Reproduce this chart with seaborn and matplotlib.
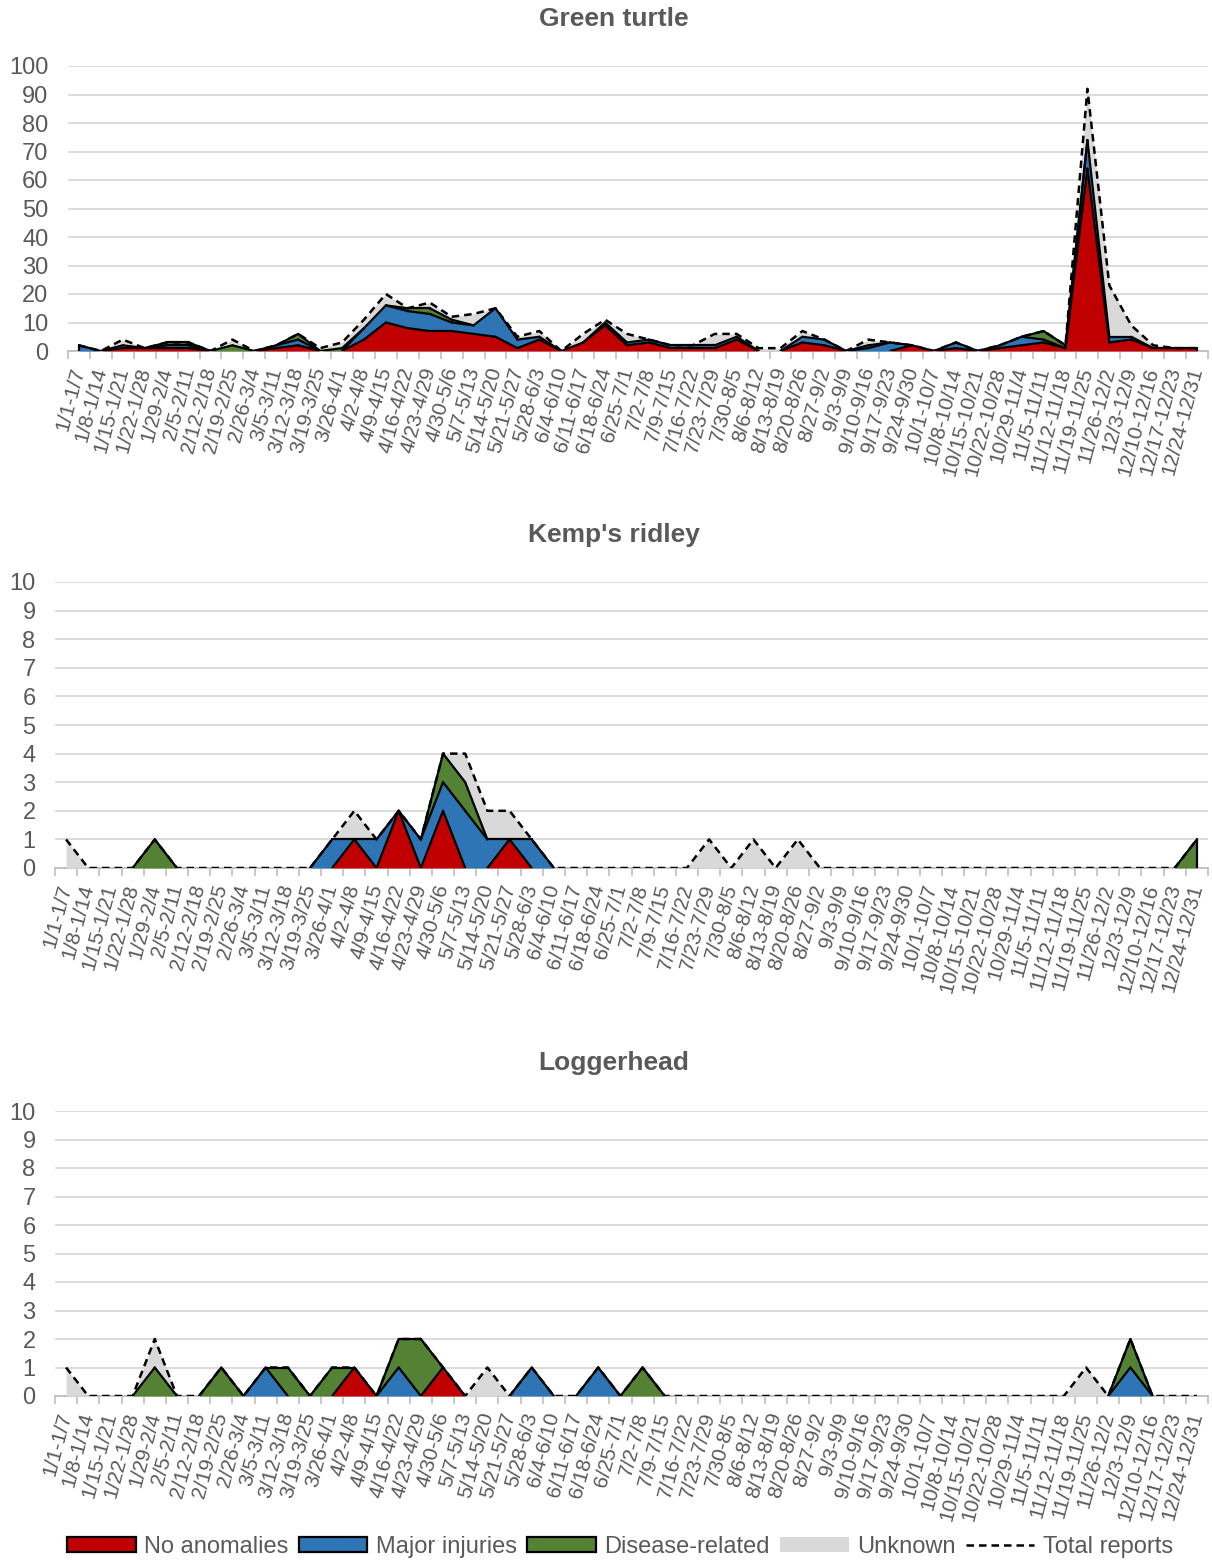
import numpy as np
import matplotlib
matplotlib.use("Agg")
import matplotlib.pyplot as plt
import seaborn as sns
from matplotlib.collections import LineCollection
from matplotlib.patches import Patch
from matplotlib.lines import Line2D
from matplotlib.transforms import ScaledTranslation

weeks = ["1/1-1/7", "1/8-1/14", "1/15-1/21", "1/22-1/28", "1/29-2/4", "2/5-2/11",
         "2/12-2/18", "2/19-2/25", "2/26-3/4", "3/5-3/11", "3/12-3/18", "3/19-3/25",
         "3/26-4/1", "4/2-4/8", "4/9-4/15", "4/16-4/22", "4/23-4/29", "4/30-5/6",
         "5/7-5/13", "5/14-5/20", "5/21-5/27", "5/28-6/3", "6/4-6/10", "6/11-6/17",
         "6/18-6/24", "6/25-7/1", "7/2-7/8", "7/9-7/15", "7/16-7/22", "7/23-7/29",
         "7/30-8/5", "8/6-8/12", "8/13-8/19", "8/20-8/26", "8/27-9/2", "9/3-9/9",
         "9/10-9/16", "9/17-9/23", "9/24-9/30", "10/1-10/7", "10/8-10/14", "10/15-10/21",
         "10/22-10/28", "10/29-11/4", "11/5-11/11", "11/12-11/18", "11/19-11/25",
         "11/26-12/2", "12/3-12/9", "12/10-12/16", "12/17-12/23", "12/24-12/31"]

series_names = ["No anomalies", "Major injuries", "Disease-related", "Unknown"]
total_name = "Total reports"

# Green turtle
green_no_anom = [0, 0, 1, 1, 1, 1, 0, 0, 0, 1, 2, 0, 0, 4, 10, 8, 7, 7, 6, 5, 1, 4, 0, 3, 9, 2,
                 3, 1, 1, 1, 4, 0, 0, 3, 2, 0, 0, 0, 2, 0, 1, 0, 1, 2, 3, 1, 64, 3, 4, 1, 1, 1]
green_major = [2, 0, 1, 0, 1, 1, 0, 0, 0, 1, 2, 0, 0, 4, 6, 6, 6, 3, 3, 10, 3, 1, 0, 0, 1, 1,
               1, 1, 1, 1, 1, 0, 0, 2, 2, 0, 1, 3, 0, 0, 2, 0, 1, 3, 1, 0, 10, 2, 1, 0, 0, 0]
green_disease = [0, 0, 0, 0, 1, 1, 0, 2, 0, 0, 2, 0, 1, 0, 0, 1, 2, 1, 0, 0, 0, 0, 0, 0, 0, 0,
                 0, 0, 0, 0, 0, 0, 0, 0, 0, 0, 1, 0, 0, 0, 0, 0, 0, 0, 3, 1, 0, 0, 0, 0, 0, 0]
green_unknown = [0, 0, 2, 0, 0, 0, 0, 2, 0, 0, 0, 1, 2, 3, 4, 0, 2, 1, 4, 0, 1, 2, 0, 3, 1, 3,
                 0, 0, 0, 4, 1, 1, 1, 2, 0, 0, 2, 0, 0, 0, 0, 0, 0, 0, 0, 0, 18, 18, 4, 1, 0, 0]

# Kemp's ridley
kemp_no_anom = [0, 0, 0, 0, 0, 0, 0, 0, 0, 0, 0, 0, 0, 1, 0, 2, 0, 2, 0, 0, 1, 0, 0, 0, 0, 0,
                0, 0, 0, 0, 0, 0, 0, 0, 0, 0, 0, 0, 0, 0, 0, 0, 0, 0, 0, 0, 0, 0, 0, 0, 0, 0]
kemp_major = [0, 0, 0, 0, 0, 0, 0, 0, 0, 0, 0, 0, 1, 0, 1, 0, 1, 1, 2, 1, 0, 1, 0, 0, 0, 0,
              0, 0, 0, 0, 0, 0, 0, 0, 0, 0, 0, 0, 0, 0, 0, 0, 0, 0, 0, 0, 0, 0, 0, 0, 0, 0]
kemp_disease = [0, 0, 0, 0, 1, 0, 0, 0, 0, 0, 0, 0, 0, 0, 0, 0, 0, 1, 1, 0, 0, 0, 0, 0, 0, 0,
                0, 0, 0, 0, 0, 0, 0, 0, 0, 0, 0, 0, 0, 0, 0, 0, 0, 0, 0, 0, 0, 0, 0, 0, 0, 1]
kemp_unknown = [1, 0, 0, 0, 0, 0, 0, 0, 0, 0, 0, 0, 0, 1, 0, 0, 0, 0, 1, 1, 1, 0, 0, 0, 0, 0,
                0, 0, 0, 1, 0, 1, 0, 1, 0, 0, 0, 0, 0, 0, 0, 0, 0, 0, 0, 0, 0, 0, 0, 0, 0, 0]

# Loggerhead
logg_no_anom = [0, 0, 0, 0, 0, 0, 0, 0, 0, 0, 0, 0, 0, 1, 0, 0, 0, 1, 0, 0, 0, 0, 0, 0, 0, 0,
                0, 0, 0, 0, 0, 0, 0, 0, 0, 0, 0, 0, 0, 0, 0, 0, 0, 0, 0, 0, 0, 0, 0, 0, 0, 0]
logg_major = [0, 0, 0, 0, 0, 0, 0, 0, 0, 1, 0, 0, 0, 0, 0, 1, 0, 0, 0, 0, 0, 1, 0, 0, 1, 0,
              0, 0, 0, 0, 0, 0, 0, 0, 0, 0, 0, 0, 0, 0, 0, 0, 0, 0, 0, 0, 0, 0, 1, 0, 0, 0]
logg_disease = [0, 0, 0, 0, 1, 0, 0, 1, 0, 0, 1, 0, 1, 0, 0, 1, 2, 0, 0, 0, 0, 0, 0, 0, 0, 0,
                1, 0, 0, 0, 0, 0, 0, 0, 0, 0, 0, 0, 0, 0, 0, 0, 0, 0, 0, 0, 0, 0, 1, 0, 0, 0]
logg_unknown = [1, 0, 0, 0, 1, 0, 0, 0, 0, 0, 0, 0, 0, 0, 0, 0, 0, 0, 0, 1, 0, 0, 0, 0, 0, 0,
                0, 0, 0, 0, 0, 0, 0, 0, 0, 0, 0, 0, 0, 0, 0, 0, 0, 0, 0, 0, 1, 0, 0, 0, 0, 0]

colors = ["#C00000", "#2E75B6", "#548235", "#D9D9D9"]
edged = [True, True, True, False]
text_color = "#595959"

sns.set_theme(style="white")
plt.rcParams["font.family"] = ["Liberation Sans", "DejaVu Sans"]

W, H = 1212, 1562
fig = plt.figure(figsize=(W / 100, H / 100), dpi=100)


def draw_panel(rect, title, title_y, series, ymax, ystep):
    ax = fig.add_axes(rect)
    x = np.arange(len(weeks))
    vals = [np.array(s, dtype=float) for s in series]
    bottom = np.zeros(len(weeks))
    tops = []
    for v, c in zip(vals, colors):
        top = bottom + v
        ax.fill_between(x, bottom, top, color=c, lw=0, zorder=2)
        tops.append((bottom.copy(), top.copy()))
        bottom = top
    # outlines of the coloured areas
    for k, (v, e) in enumerate(zip(vals, edged)):
        if not e:
            continue
        b, t = tops[k]
        segs = []
        for i in range(len(x) - 1):
            if v[i] > 0 or v[i + 1] > 0:
                segs.append([(x[i], t[i]), (x[i + 1], t[i + 1])])
        for i in (0, len(x) - 1):
            if v[i] > 0:
                segs.append([(x[i], b[i]), (x[i], t[i])])
        lc = LineCollection(segs, colors="black", linewidths=1.6, zorder=3,
                            capstyle="round", joinstyle="round")
        ax.add_collection(lc)
    total = bottom
    sns.lineplot(x=x, y=total, ax=ax, color="black", lw=1.8, zorder=4)
    ax.lines[-1].set_linestyle((0, (3, 2)))

    ax.set_xlim(-0.5, len(weeks) - 0.5)
    ax.set_ylim(0, ymax)
    ax.set_yticks(np.arange(0, ymax + ystep / 2, ystep))
    ax.yaxis.grid(True, color="#D9D9D9", lw=1.3)
    ax.xaxis.grid(False)
    ax.set_axisbelow(True)
    for s in ["top", "right", "left"]:
        ax.spines[s].set_visible(False)
    ax.spines["bottom"].set_color("#BFBFBF")
    ax.spines["bottom"].set_linewidth(1.3)
    ax.spines["bottom"].set_zorder(1)
    ax.set_xticks(x)
    ax.set_xticklabels(weeks, rotation=75, ha="right", va="center",
                       rotation_mode="anchor", fontsize=15, color=text_color)
    shift = ScaledTranslation(4 / 100, 0, fig.dpi_scale_trans)
    for lab in ax.get_xticklabels():
        lab.set_transform(lab.get_transform() + shift)
    ax.set_xticks(np.arange(-0.5, len(weeks), 1), minor=True)
    ax.tick_params(axis="x", which="major", length=0, pad=12)
    ax.tick_params(axis="x", which="minor", length=6, width=1.2, color="#BFBFBF",
                   bottom=True)
    ax.tick_params(axis="y", length=0, pad=14, labelsize=17, labelcolor=text_color)
    ax.set_xlabel("")
    ax.set_ylabel("")
    fig.text(614 / W, 1 - title_y / H, title, ha="center", va="center",
             fontsize=19, fontweight="bold", color=text_color)
    return ax


def rect_px(left, right, ytop, ybot):
    return [left / W, 1 - ybot / H, (right - left) / W, (ybot - ytop) / H]


draw_panel(rect_px(68, 1208, 66, 351), "Green turtle", 19,
           [green_no_anom, green_major, green_disease, green_unknown], 100, 10)
draw_panel(rect_px(55, 1208, 582, 868), "Kemp's ridley", 535,
           [kemp_no_anom, kemp_major, kemp_disease, kemp_unknown], 10, 1)
draw_panel(rect_px(55, 1208, 1111, 1396), "Loggerhead", 1063,
           [logg_no_anom, logg_major, logg_disease, logg_unknown], 10, 1)

handles = []
for name, c, e in zip(series_names, colors, edged):
    handles.append(Patch(facecolor=c, edgecolor="black" if e else c, lw=1.6 if e else 0,
                         label=name))
handles.append(Line2D([0], [0], color="black", lw=1.8, linestyle=(0, (3, 2)),
                      label=total_name))
leg = fig.legend(handles=handles, loc="center", bbox_to_anchor=(620 / W, 1 - 1547 / H),
                 ncol=5, frameon=False, fontsize=17, handlelength=2.9, handleheight=0.6,
                 handletextpad=0.35, columnspacing=0.45, borderaxespad=0)
for t in leg.get_texts():
    t.set_color(text_color)

fig.savefig("out.png", dpi=100)
